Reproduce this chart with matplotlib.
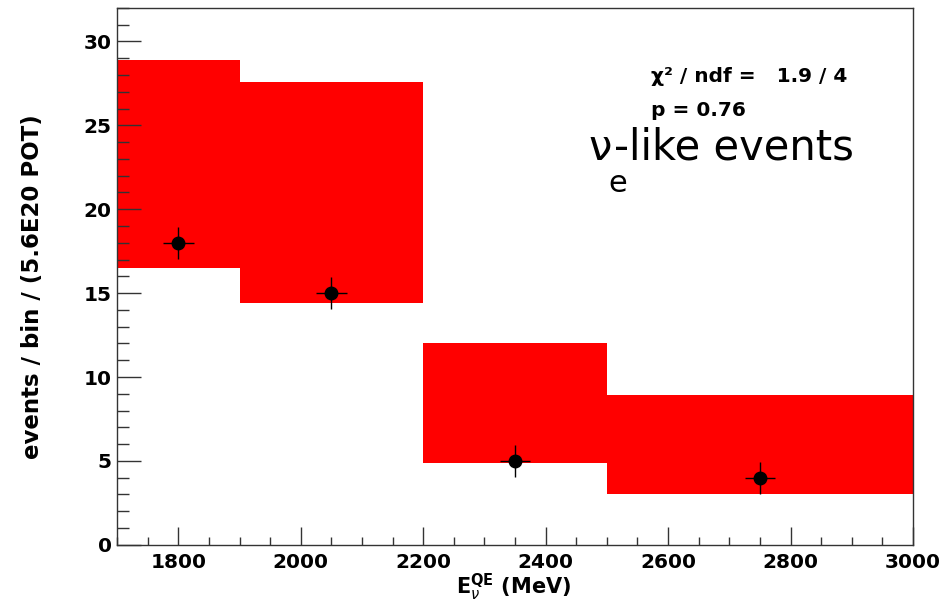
import matplotlib.pyplot as plt
from matplotlib.ticker import MultipleLocator

# bin edges of the predicted band and its low/high limits per bin
bin_edges = [1700, 1900, 2200, 2500, 3000]
band_low = [16.5, 14.4, 4.85, 3.05]
band_high = [28.9, 27.6, 12.0, 8.95]

# observed data points
data_x = [1800, 2050, 2350, 2750]
data_y = [18, 15, 5, 4]
x_err = [25, 25, 25, 25]
y_err = [0.95, 0.95, 0.95, 0.95]

plt.rcParams["font.family"] = ["DejaVu Sans"]
plt.rcParams["mathtext.fontset"] = "dejavusans"

fig = plt.figure(figsize=(9.52, 6.04), dpi=100)
ax = fig.add_axes([0.123, 0.098, 0.836, 0.889])

widths = [bin_edges[i + 1] - bin_edges[i] for i in range(len(band_low))]
heights = [band_high[i] - band_low[i] for i in range(len(band_low))]
ax.bar(bin_edges[:-1], heights, width=widths, bottom=band_low, align="edge",
       color="#ff0000", edgecolor="none", zorder=1)

ax.errorbar(data_x, data_y, xerr=x_err, yerr=y_err, fmt="o", color="black",
            ms=9, elinewidth=1, capsize=0, zorder=3)

ax.set_xlim(1700, 3000)
ax.set_ylim(0, 32)
ax.xaxis.set_major_locator(MultipleLocator(200))
ax.xaxis.set_minor_locator(MultipleLocator(50))
ax.yaxis.set_major_locator(MultipleLocator(5))
ax.yaxis.set_minor_locator(MultipleLocator(1))
ax.tick_params(axis="x", which="major", direction="in", length=13, width=1,
               color="#333333", labelsize=14.5, pad=6)
ax.tick_params(axis="x", which="minor", direction="in", length=6, width=1, color="#333333")
ax.tick_params(axis="y", which="major", direction="in", length=17, width=1,
               color="#333333", labelsize=14.5, pad=4)
ax.tick_params(axis="y", which="minor", direction="in", length=8.5, width=1, color="#333333")
for lab in ax.get_xticklabels() + ax.get_yticklabels():
    lab.set_fontweight("bold")
for sp in ax.spines.values():
    sp.set_color("#333333")
    sp.set_linewidth(1)

# axis titles
fig.text(33 / 952, 1 - 287 / 604, "events / bin / (5.6E20 POT)", fontsize=16.5,
         fontweight="bold", rotation=90, ha="center", va="center")
fig.text(514 / 952, 1 - 594 / 604, r"$\mathbf{E}_{\nu}^{\mathbf{QE}}$ (MeV)", fontsize=15,
         fontweight="bold", ha="center", va="baseline")

fig.text(651 / 952, 1 - 82 / 604, "χ² / ndf =   1.9 / 4", fontsize=14.5, fontweight="bold",
         ha="left", va="baseline")
fig.text(651 / 952, 1 - 116 / 604, "p = 0.76", fontsize=14.5, fontweight="bold",
         ha="left", va="baseline")

# nu_e-like events label with full-size lowered "e"
fig.text(588 / 952, 1 - 160 / 604, "ν", fontsize=30, ha="left", va="baseline")
fig.text(608 / 952, 1 - 192 / 604, "e", fontsize=22, ha="left", va="baseline")
fig.text(614 / 952, 1 - 160 / 604, "-like events", fontsize=30, ha="left", va="baseline")

fig.savefig("out.png", dpi=100)
